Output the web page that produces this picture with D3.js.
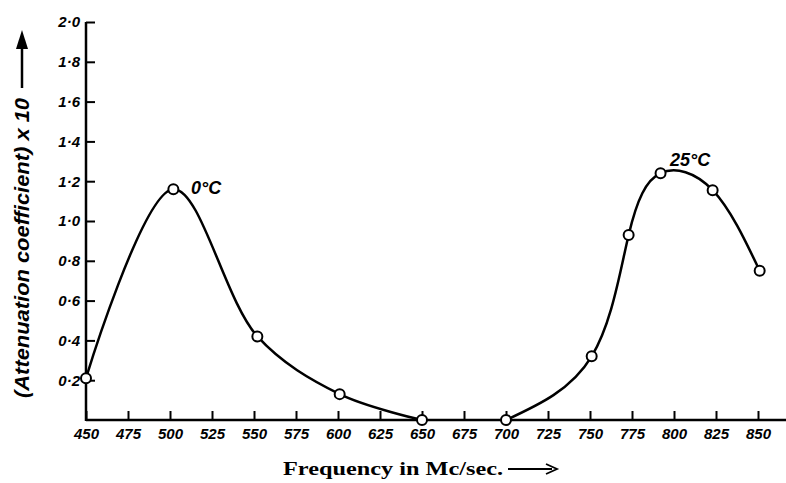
<!DOCTYPE html>
<html>
<head>
<meta charset="utf-8">
<script src="https://cdnjs.cloudflare.com/ajax/libs/d3/7.8.5/d3.min.js"></script>
<style>
  body { margin: 0; background: #fff; }
  .hand { font-family: "Liberation Sans", "DejaVu Sans", sans-serif; font-style: italic; font-weight: bold; }
</style>
</head>
<body>
<svg id="chart" width="786" height="483"></svg>
<script>
// data (frequency in Mc/sec, attenuation coefficient x 10)
var freq0 = [450, 502, 552, 601, 650];
var atten0 = [0.21, 1.16, 0.42, 0.13, 0.0];
var freq25 = [700, 751, 773, 792, 823, 851];
var atten25 = [0.0, 0.32, 0.93, 1.24, 1.155, 0.75];
var xTicks = [450, 475, 500, 525, 550, 575, 600, 625, 650, 675, 700, 725, 750, 775, 800, 825, 850];
var yTicks = [0.2, 0.4, 0.6, 0.8, 1.0, 1.2, 1.4, 1.6, 1.8, 2.0];

var svg = d3.select("#chart");

var x = d3.scaleLinear().domain([450, 850]).range([86, 758]);
var y = d3.scaleLinear().domain([0, 2]).range([420, 22]);

// axes, ticks pointing inwards like the drawing
var xAxis = d3.axisBottom(x).tickValues(xTicks).tickSizeInner(-9).tickSizeOuter(0).tickPadding(8);
var yAxis = d3.axisLeft(y).tickValues(yTicks).tickSizeInner(-9).tickSizeOuter(0).tickPadding(6)
    .tickFormat(function (d) { return d3.format(".1f")(d).replace(".", "\u00b7"); });

var gx = svg.append("g").attr("transform", "translate(0,420)").call(xAxis);
var gy = svg.append("g").attr("transform", "translate(86,0)").call(yAxis);

[gx, gy].forEach(function (g) {
    g.select(".domain").remove();
    g.selectAll(".tick line").attr("stroke", "#000").attr("stroke-width", 2);
    g.selectAll(".tick text").attr("class", "hand").attr("font-size", 15).attr("fill", "#000");
});

// axis lines drawn by hand so the x axis runs on past 850
svg.append("line").attr("x1", 86).attr("x2", 786).attr("y1", 420).attr("y2", 420)
    .attr("stroke", "#000").attr("stroke-width", 2.5);
svg.append("line").attr("x1", 86).attr("x2", 86).attr("y1", 421).attr("y2", y(2))
    .attr("stroke", "#000").attr("stroke-width", 2.5);

// curves: the 0°C one smooths best with catmull-rom, the 25°C one with a natural spline
var series = [
    { pts: d3.zip(freq0, atten0), curve: d3.curveCatmullRom.alpha(0.5) },
    { pts: d3.zip(freq25, atten25), curve: d3.curveNatural }
];

svg.selectAll(".curve").data(series).enter().append("path")
    .attr("class", "curve")
    .attr("d", function (s) {
        return d3.line()
            .x(function (d) { return x(d[0]); })
            .y(function (d) { return y(d[1]); })
            .curve(s.curve)(s.pts);
    })
    .attr("fill", "none")
    .attr("stroke", "#000")
    .attr("stroke-width", 2.5);

var pts = d3.zip(freq0, atten0).concat(d3.zip(freq25, atten25));
svg.selectAll(".pt").data(pts).enter().append("circle")
    .attr("class", "pt")
    .attr("cx", function (d) { return x(d[0]); })
    .attr("cy", function (d) { return y(d[1]); })
    .attr("r", 5)
    .attr("fill", "#fff")
    .attr("stroke", "#000")
    .attr("stroke-width", 2);

// curve labels
svg.append("text").attr("class", "hand").attr("x", 191).attr("y", 194)
    .attr("font-size", 18).text("0\u00b0C");
svg.append("text").attr("class", "hand").attr("x", 670).attr("y", 166)
    .attr("font-size", 18).text("25\u00b0C");

// x title
svg.append("text")
    .attr("x", 283).attr("y", 475)
    .attr("font-family", "Liberation Serif, DejaVu Serif, serif")
    .attr("font-weight", "bold")
    .attr("font-size", 19)
    .attr("textLength", 220)
    .attr("lengthAdjust", "spacingAndGlyphs")
    .text("Frequency in Mc/sec.");
svg.append("line").attr("x1", 508).attr("x2", 552).attr("y1", 469).attr("y2", 469)
    .attr("stroke", "#000").attr("stroke-width", 1.8);
svg.append("path").attr("d", "M546,464 L557,469 L546,474").attr("fill", "none")
    .attr("stroke", "#000").attr("stroke-width", 1.8);

// y title with arrow
svg.append("text")
    .attr("class", "hand")
    .attr("transform", "translate(29,248) rotate(-90)")
    .attr("text-anchor", "middle")
    .attr("font-size", 20)
    .attr("textLength", 300)
    .attr("lengthAdjust", "spacingAndGlyphs")
    .text("(Attenuation coefficient) x 10");
svg.append("line").attr("x1", 22).attr("x2", 22).attr("y1", 88).attr("y2", 46)
    .attr("stroke", "#000").attr("stroke-width", 2.5);
svg.append("path").attr("d", "M22,30 L16,49 L28,49 Z").attr("fill", "#000");
</script>
</body>
</html>
